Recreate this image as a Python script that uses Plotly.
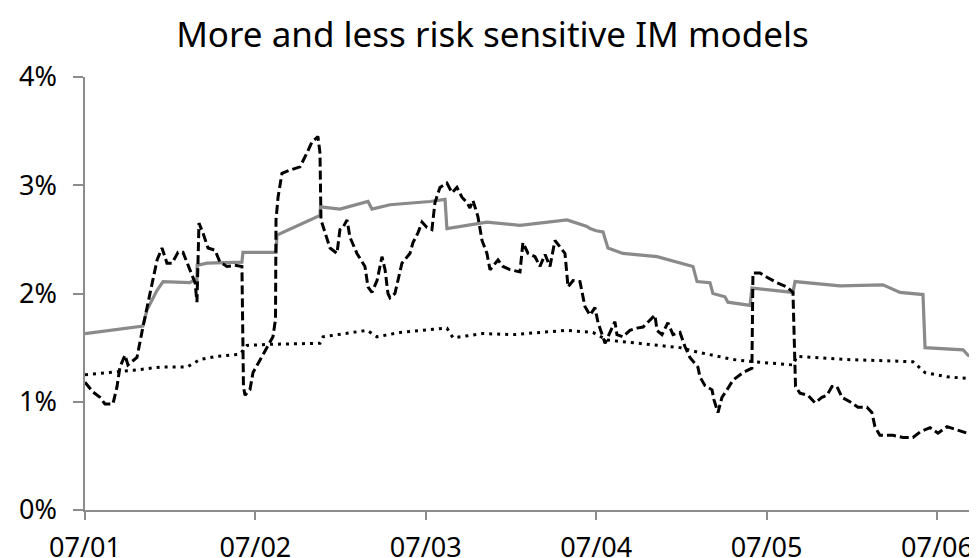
import plotly.graph_objects as go

# x positions are in tick periods (0 = "07/01", 1 = "07/02", ...); values in percent
tick_labels = ["07/01", "07/02", "07/03", "07/04", "07/05", "07/06"]
tick_pos = [0, 1, 2, 3, 4, 5]

gray_x = [0.000, 0.323, 0.340, 0.364, 0.423, 0.458, 0.616, 0.646, 0.657, 0.658, 0.716, 0.921,
          0.927, 1.121, 1.127, 1.379, 1.382, 1.496, 1.661, 1.684, 1.790, 2.025, 2.113, 2.124,
          2.359, 2.553, 2.829, 2.946, 2.964, 3.000, 3.040, 3.069, 3.157, 3.357, 3.509, 3.568,
          3.592, 3.668, 3.685, 3.756, 3.773, 3.903, 3.914, 4.155, 4.167, 4.431, 4.683, 4.783,
          4.918, 4.930, 5.153, 5.182, 5.235]
gray_y = [1.63, 1.69, 1.70, 1.85, 2.03, 2.11, 2.10, 2.13, 2.13, 2.26, 2.28, 2.29,
          2.38, 2.38, 2.54, 2.72, 2.80, 2.78, 2.85, 2.78, 2.82, 2.85, 2.87, 2.60,
          2.66, 2.63, 2.68, 2.62, 2.60, 2.58, 2.57, 2.42, 2.37, 2.34, 2.28, 2.25,
          2.11, 2.10, 2.00, 1.97, 1.92, 1.89, 2.05, 2.01, 2.11, 2.07, 2.08, 2.01,
          1.99, 1.50, 1.48, 1.43, 1.40]

dot_x = [0.000, 0.282, 0.440, 0.599, 0.675, 0.775, 0.910, 0.951, 1.068, 1.379, 1.397, 1.655,
         1.714, 1.849, 2.042, 2.124, 2.160, 2.336, 2.512, 2.829, 2.981, 3.063, 3.492, 3.592,
         3.803, 3.920, 4.155, 4.178, 4.472, 4.859, 4.930, 5.059, 5.235]
dot_y = [1.25, 1.29, 1.32, 1.32, 1.39, 1.42, 1.44, 1.52, 1.53, 1.54, 1.60, 1.66,
         1.60, 1.64, 1.67, 1.68, 1.59, 1.63, 1.62, 1.66, 1.64, 1.57, 1.50, 1.46,
         1.39, 1.37, 1.34, 1.42, 1.39, 1.37, 1.27, 1.23, 1.21]

dash_x = [0.000, 0.047, 0.088, 0.117, 0.164, 0.188, 0.205, 0.235, 0.252, 0.305, 0.340, 0.381,
          0.423, 0.452, 0.481, 0.511, 0.546, 0.575, 0.616, 0.646, 0.657, 0.669, 0.692, 0.722,
          0.763, 0.792, 0.833, 0.880, 0.921, 0.930, 0.939, 0.968, 0.986, 1.027, 1.068, 1.103,
          1.118, 1.121, 1.133, 1.156, 1.203, 1.262, 1.303, 1.332, 1.367, 1.379, 1.385, 1.408,
          1.438, 1.479, 1.496, 1.514, 1.538, 1.555, 1.596, 1.643, 1.661, 1.684, 1.714, 1.743,
          1.761, 1.778, 1.790, 1.819, 1.837, 1.860, 1.907, 1.925, 1.954, 1.978, 2.007, 2.036,
          2.054, 2.083, 2.124, 2.154, 2.183, 2.212, 2.242, 2.259, 2.277, 2.306, 2.330, 2.359,
          2.377, 2.424, 2.453, 2.494, 2.553, 2.570, 2.600, 2.641, 2.670, 2.700, 2.729, 2.758,
          2.788, 2.817, 2.835, 2.864, 2.905, 2.934, 2.964, 2.993, 3.011, 3.052, 3.081, 3.110,
          3.122, 3.157, 3.198, 3.239, 3.275, 3.345, 3.357, 3.386, 3.421, 3.451, 3.492, 3.521,
          3.550, 3.597, 3.609, 3.638, 3.680, 3.691, 3.715, 3.738, 3.768, 3.803, 3.862, 3.914,
          3.920, 3.961, 4.002, 4.061, 4.120, 4.155, 4.170, 4.196, 4.243, 4.284, 4.325, 4.354,
          4.384, 4.413, 4.443, 4.489, 4.536, 4.589, 4.618, 4.636, 4.665, 4.742, 4.800, 4.859,
          4.900, 4.959, 5.006, 5.059, 5.117, 5.176, 5.235]
dash_y = [1.18, 1.09, 1.04, 0.98, 0.98, 1.14, 1.32, 1.43, 1.34, 1.41, 1.69, 2.00,
          2.31, 2.42, 2.28, 2.28, 2.38, 2.38, 2.22, 2.10, 1.92, 2.65, 2.56, 2.42,
          2.40, 2.29, 2.25, 2.26, 2.25, 1.14, 1.06, 1.11, 1.27, 1.39, 1.51, 1.60,
          1.76, 2.68, 2.89, 3.11, 3.14, 3.17, 3.30, 3.40, 3.45, 3.30, 2.68, 2.56,
          2.42, 2.37, 2.59, 2.61, 2.68, 2.52, 2.37, 2.25, 2.06, 2.01, 2.12, 2.34,
          2.22, 2.00, 1.96, 2.00, 2.12, 2.28, 2.37, 2.47, 2.56, 2.66, 2.61, 2.59,
          2.84, 2.98, 3.02, 2.93, 2.98, 2.89, 2.84, 2.79, 2.86, 2.71, 2.49, 2.37,
          2.22, 2.31, 2.25, 2.22, 2.20, 2.47, 2.37, 2.34, 2.25, 2.36, 2.25, 2.49,
          2.43, 2.37, 2.06, 2.12, 2.11, 1.88, 1.80, 1.87, 1.73, 1.54, 1.64, 1.74,
          1.62, 1.60, 1.66, 1.68, 1.69, 1.80, 1.66, 1.62, 1.73, 1.62, 1.64, 1.51,
          1.41, 1.32, 1.23, 1.15, 1.11, 1.02, 0.90, 1.04, 1.11, 1.20, 1.27, 1.31,
          2.19, 2.19, 2.15, 2.10, 2.06, 2.01, 1.14, 1.08, 1.06, 0.99, 1.04, 1.06,
          1.14, 1.14, 1.04, 1.00, 0.95, 0.95, 0.90, 0.77, 0.69, 0.69, 0.67, 0.67,
          0.72, 0.76, 0.71, 0.77, 0.74, 0.71, 0.76]

y_ticks = [0, 1, 2, 3, 4]
y_tick_text = ["0%", "1%", "2%", "3%", "4%"]

FONT = "Noto Sans"

fig = go.Figure()
fig.add_trace(go.Scatter(x=dot_x, y=dot_y, mode="lines",
                         line=dict(color="black", width=3, dash="3px,5px"),
                         showlegend=False))
fig.add_trace(go.Scatter(x=gray_x, y=gray_y, mode="lines",
                         line=dict(color="#8a8a8a", width=3.2),
                         showlegend=False))
fig.add_trace(go.Scatter(x=dash_x, y=dash_y, mode="lines",
                         line=dict(color="black", width=3, dash="9px,4px"),
                         showlegend=False))

# the page body has an 8px offset, so the figure is sized to fit the window
fig.update_layout(
    width=969, height=550,
    margin=dict(l=77, r=0, t=69, b=48, autoexpand=False),
    paper_bgcolor="white", plot_bgcolor="white",
    title=dict(text="More and less risk sensitive IM models",
               x=0.5, xanchor="center", xref="container",
               y=1 - 27 / 550, yref="container", yanchor="middle",
               font=dict(family=FONT, size=35, color="black")),
    font=dict(family=FONT, color="black"),
)

fig.update_xaxes(range=[0, 5.235], tickvals=tick_pos, ticktext=tick_labels,
                 showgrid=False, zeroline=False, automargin=False,
                 showline=True, linecolor="#8c8c8c", linewidth=1.5,
                 ticks="outside", ticklen=8, tickwidth=1.5, tickcolor="#8c8c8c",
                 tickfont=dict(family=FONT, size=27, color="black"),
                 ticklabelstandoff=5)
fig.update_yaxes(range=[0, 4], tickvals=y_ticks, ticktext=y_tick_text,
                 showgrid=False, zeroline=False, automargin=False,
                 showline=True, linecolor="#8c8c8c", linewidth=1.5,
                 ticks="outside", ticklen=10, tickwidth=1.5, tickcolor="#8c8c8c",
                 tickfont=dict(family=FONT, size=27, color="black"),
                 ticklabelstandoff=11)

fig.write_html("out.html")
